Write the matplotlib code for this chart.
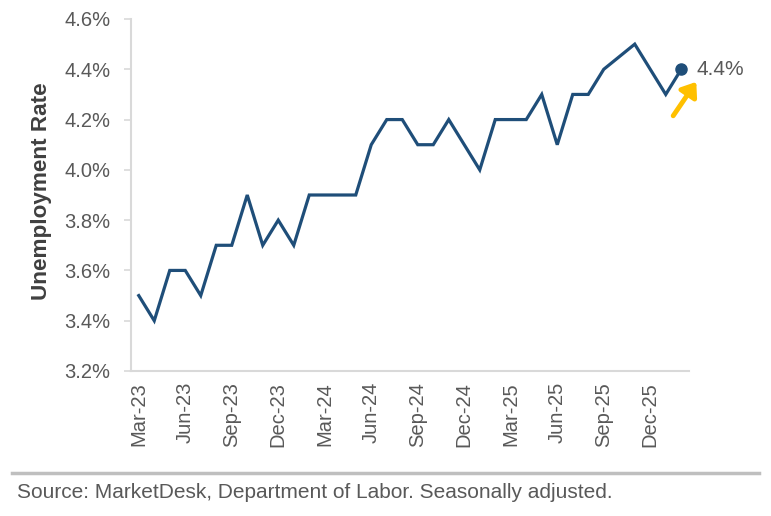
import matplotlib
matplotlib.use("Agg")
import matplotlib.pyplot as plt
from matplotlib.ticker import FuncFormatter, MultipleLocator

# Monthly data (Oct-25 not reported)
months = ["Mar-23", "Apr-23", "May-23", "Jun-23", "Jul-23", "Aug-23", "Sep-23", "Oct-23",
          "Nov-23", "Dec-23", "Jan-24", "Feb-24", "Mar-24", "Apr-24", "May-24", "Jun-24",
          "Jul-24", "Aug-24", "Sep-24", "Oct-24", "Nov-24", "Dec-24", "Jan-25", "Feb-25",
          "Mar-25", "Apr-25", "May-25", "Jun-25", "Jul-25", "Aug-25", "Sep-25",
          "Nov-25", "Dec-25", "Jan-26", "Feb-26"]
rates = [3.5, 3.4, 3.6, 3.6, 3.5, 3.7, 3.7, 3.9,
         3.7, 3.8, 3.7, 3.9, 3.9, 3.9, 3.9, 4.1,
         4.2, 4.2, 4.1, 4.1, 4.2, 4.1, 4.0, 4.2,
         4.2, 4.2, 4.3, 4.1, 4.3, 4.3, 4.4,
         4.5, 4.4, 4.3, 4.4]
tick_labels = ["Mar-23", "Jun-23", "Sep-23", "Dec-23", "Mar-24", "Jun-24",
               "Sep-24", "Dec-24", "Mar-25", "Jun-25", "Sep-25", "Dec-25"]
last_label = "4.4%"
ylabel = "Unemployment Rate"
source = "Source: MarketDesk, Department of Labor. Seasonally adjusted."

mon_idx = {m: i for i, m in enumerate(["Jan", "Feb", "Mar", "Apr", "May", "Jun",
                                         "Jul", "Aug", "Sep", "Oct", "Nov", "Dec"])}

def to_x(lbl):
    m, y = lbl.split("-")
    return (int(y) - 23) * 12 + mon_idx[m] - 2

xs = [to_x(m) for m in months]
tick_x = [to_x(t) for t in tick_labels]

FONT = "Liberation Sans"
TXT = "#595959"
LINE = "#1f4e79"
SPINE = "#d9d9d9"

fig = plt.figure(figsize=(7.71, 5.16), dpi=100)
ax = fig.add_axes([131 / 771, 1 - 371 / 516, (689 - 131) / 771, (371 - 19) / 516])

ax.plot(xs, rates, color=LINE, lw=2.3, solid_joinstyle="miter", zorder=3)
ax.plot(xs[-1], rates[-1], "o", color=LINE, ms=8, zorder=4)

ax.set_ylim(3.2, 4.6)
ax.set_xlim(xs[0] - 0.5, xs[-1] + 0.5)
ax.yaxis.set_major_locator(MultipleLocator(0.2))
ax.yaxis.set_major_formatter(FuncFormatter(lambda v, p: f"{v:.1f}%"))
ax.set_xticks(tick_x)
ax.set_xticklabels(tick_labels, rotation=90)

for s in ["top", "right"]:
    ax.spines[s].set_visible(False)
for s in ["left", "bottom"]:
    ax.spines[s].set_color(SPINE)
    ax.spines[s].set_linewidth(1.5)

ax.tick_params(axis="y", length=5, width=1.2, color=SPINE, pad=10, labelcolor=TXT,
               labelsize=14.5)
ax.tick_params(axis="x", length=0, pad=8, labelcolor=TXT, labelsize=14.5)
for lbl in ax.get_xticklabels() + ax.get_yticklabels():
    lbl.set_fontfamily(FONT)

fig.text(42 / 771, 1 - 191 / 516, ylabel, rotation=90, ha="center", va="center",
         fontsize=16.2, fontweight="bold", color="#404040", fontfamily=FONT)

# last value annotation
ax.annotate("", xy=(xs[-1] + 0.97, rates[-1] - 0.05), xytext=(xs[-1] - 0.52, rates[-1] - 0.185),
            arrowprops=dict(arrowstyle="-|>,head_length=0.8,head_width=0.6",
                            color="#ffc000", lw=3.5, shrinkA=0, shrinkB=0),
            annotation_clip=False, zorder=5)
ax.text(xs[-1] + 1.0, rates[-1], last_label, ha="left", va="center", fontsize=15,
        color=TXT, fontfamily=FONT, clip_on=False)

# footer
fig.add_artist(plt.Line2D([12 / 771, 759 / 771], [1 - 473 / 516] * 2,
                          color="#bfbfbf", lw=2.5, transform=fig.transFigure))
fig.text(17 / 771, 1 - 492 / 516, source, ha="left", va="center", fontsize=15,
         color=TXT, fontfamily=FONT)

fig.savefig("out.png", dpi=100)
